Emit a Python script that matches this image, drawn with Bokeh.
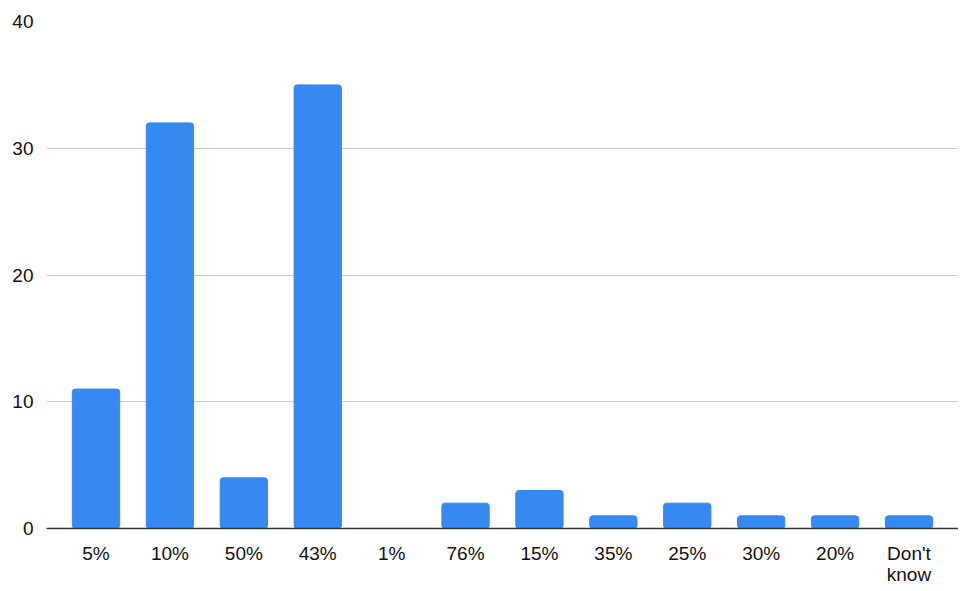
from bokeh.plotting import figure
from bokeh.models import FactorRange, Range1d, SingleIntervalTicker
from bokeh.embed import file_html
from bokeh.resources import INLINE

categories = ["5%", "10%", "50%", "43%", "1%", "76%", "15%", "35%", "25%", "30%", "20%", "Don't\nknow"]
counts = [11, 32, 4, 35, 0, 2, 3, 1, 2, 1, 1, 1]

p = figure(
    x_range=FactorRange(factors=categories, range_padding=0.17, range_padding_units="absolute"),
    y_range=Range1d(0, 40),
    width=958, height=590,
    output_backend="svg", toolbar_location=None,
    min_border_left=46, min_border_right=0, min_border_top=21, min_border_bottom=62,
)
p.vbar(x=categories, top=counts, width=0.64, color="#3589f0", border_radius=3)

p.outline_line_color = None
p.background_fill_color = "white"
p.border_fill_color = "white"

p.yaxis.ticker = SingleIntervalTicker(interval=10)
p.yaxis.axis_line_color = None
p.yaxis.major_tick_line_color = None
p.yaxis.minor_tick_line_color = None
p.yaxis.major_label_standoff = 7
p.ygrid.grid_line_color = "#cccccc"
p.ygrid.grid_line_width = 1
p.xgrid.grid_line_color = None

p.xaxis.axis_line_color = "#333333"
p.xaxis.axis_line_width = 1.5
p.xaxis.major_tick_line_color = None
p.xaxis.minor_tick_line_color = None
p.xaxis.major_label_standoff = 8

for ax in (p.xaxis, p.yaxis):
    ax.major_label_text_font = "Liberation Sans"
    ax.major_label_text_font_size = "19px"
    ax.major_label_text_color = "#111111"
p.xaxis.major_label_text_line_height = 1.0

open("out.html", "w").write(file_html(p, INLINE))
